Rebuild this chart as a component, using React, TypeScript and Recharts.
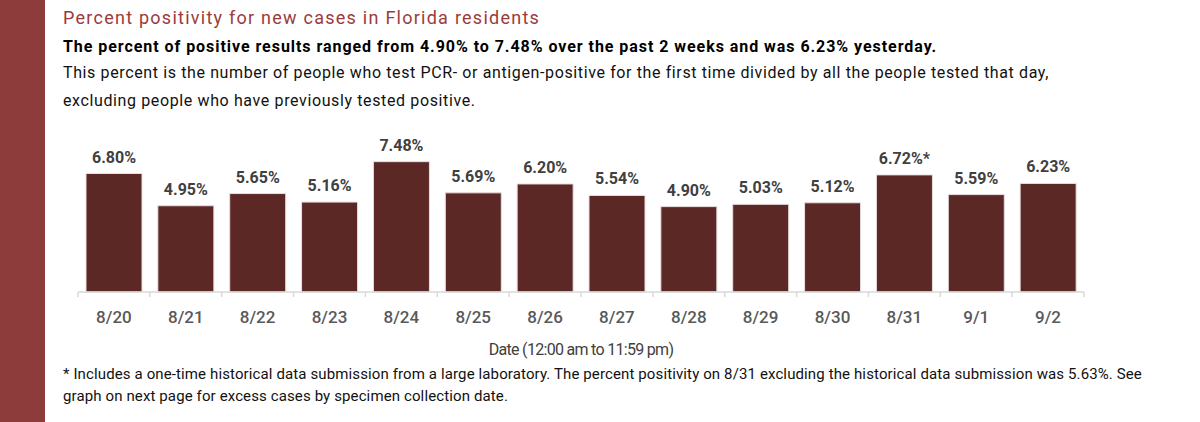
import { BarChart, Bar, XAxis, YAxis, LabelList } from 'recharts';

const dates = ['8/20', '8/21', '8/22', '8/23', '8/24', '8/25', '8/26', '8/27', '8/28', '8/29', '8/30', '8/31', '9/1', '9/2'];
const positivity = [6.8, 4.95, 5.65, 5.16, 7.48, 5.69, 6.2, 5.54, 4.9, 5.03, 5.12, 6.72, 5.59, 6.23];
const notes = ['', '', '', '', '', '', '', '', '', '', '', '*', '', ''];

const chartData = dates.map((d, i) => ({
  date: d,
  value: positivity[i],
  label: positivity[i].toFixed(2) + '%' + notes[i],
}));

const W = 1200;
const M_LEFT = 78;
const M_RIGHT = 116;
const HALF_BAND = (W - M_LEFT - M_RIGHT) / dates.length / 2;

const AXIS_COLOR = '#d9d9d9';
const BAR_COLOR = '#5c2826';

const DateTick = ({ x, y, payload, index }: any) => (
  <g>
    <line x1={x - HALF_BAND} y1={y} x2={x - HALF_BAND} y2={y + 5} stroke={AXIS_COLOR} strokeWidth={1.5} />
    {index === dates.length - 1 && (
      <line x1={x + HALF_BAND} y1={y} x2={x + HALF_BAND} y2={y + 5} stroke={AXIS_COLOR} strokeWidth={1.5} />
    )}
    <text x={x} y={y + 31} textAnchor="middle" fill="#595959" fontSize={17} fontWeight={500} fontFamily="Roboto">
      {payload.value}
    </text>
  </g>
);

export default function App() {
  return (
    <div style={{ position: 'absolute', top: 0, left: 0, width: W, height: 422, background: '#fff', fontFamily: 'Roboto', overflow: 'hidden' }}>
      {/* red band on the left */}
      <div style={{ position: 'absolute', left: 0, top: 0, width: 45, height: 422, background: '#8e3b3b' }} />

      <div style={{ position: 'absolute', left: 63, top: 6, fontSize: 18, color: '#9b3b3b', lineHeight: '24px', letterSpacing: 1.25, whiteSpace: 'nowrap' }}>
        Percent positivity for new cases in Florida residents
      </div>
      <div style={{ position: 'absolute', left: 63, top: 35, fontSize: 16, fontWeight: 700, color: '#000', lineHeight: '24px', letterSpacing: 0.95, whiteSpace: 'nowrap' }}>
        The percent of positive results ranged from 4.90% to 7.48% over the past 2 weeks and was 6.23% yesterday.
      </div>
      <div style={{ position: 'absolute', left: 63, top: 59, fontSize: 16, color: '#111', lineHeight: '28px', letterSpacing: 0.62, whiteSpace: 'nowrap' }}>
        This percent is the number of people who test PCR- or antigen-positive for the first time divided by all the people tested that day,
        <br />
        excluding people who have previously tested positive.
      </div>

      <div style={{ position: 'absolute', left: 0, top: 0 }}>
        <BarChart width={W} height={380} data={chartData} margin={{ top: 152.6, right: M_RIGHT, left: M_LEFT, bottom: 0 }} barSize={56}>
          <XAxis
            dataKey="date"
            height={88}
            stroke={AXIS_COLOR}
            strokeWidth={1.5}
            tickLine={false}
            tickSize={0}
            tickMargin={0}
            tick={<DateTick />}
            interval={0}
            label={{ value: 'Date (12:00 am to 11:59 pm)', position: 'insideTop', offset: 52, fill: '#404040', fontSize: 16, fontFamily: 'Roboto', letterSpacing: -0.7 }}
          />
          <YAxis hide width={0} domain={[0, 8]} />
          <Bar dataKey="value" fill={BAR_COLOR} stroke="#e8dede" strokeWidth={1} isAnimationActive={false}>
            <LabelList dataKey="label" position="top" offset={11} fill="#404040" fontSize={16} fontWeight={700} fontFamily="Roboto" />
          </Bar>
        </BarChart>
      </div>

      <div style={{ position: 'absolute', left: 63, top: 363, fontSize: 15, color: '#111', lineHeight: '22px', letterSpacing: 0.12, whiteSpace: 'nowrap' }}>
        * Includes a one-time historical data submission from a large laboratory. The percent positivity on 8/31 excluding the historical data submission was 5.63%. See
        <br />
        graph on next page for excess cases by specimen collection date.
      </div>
    </div>
  );
}
